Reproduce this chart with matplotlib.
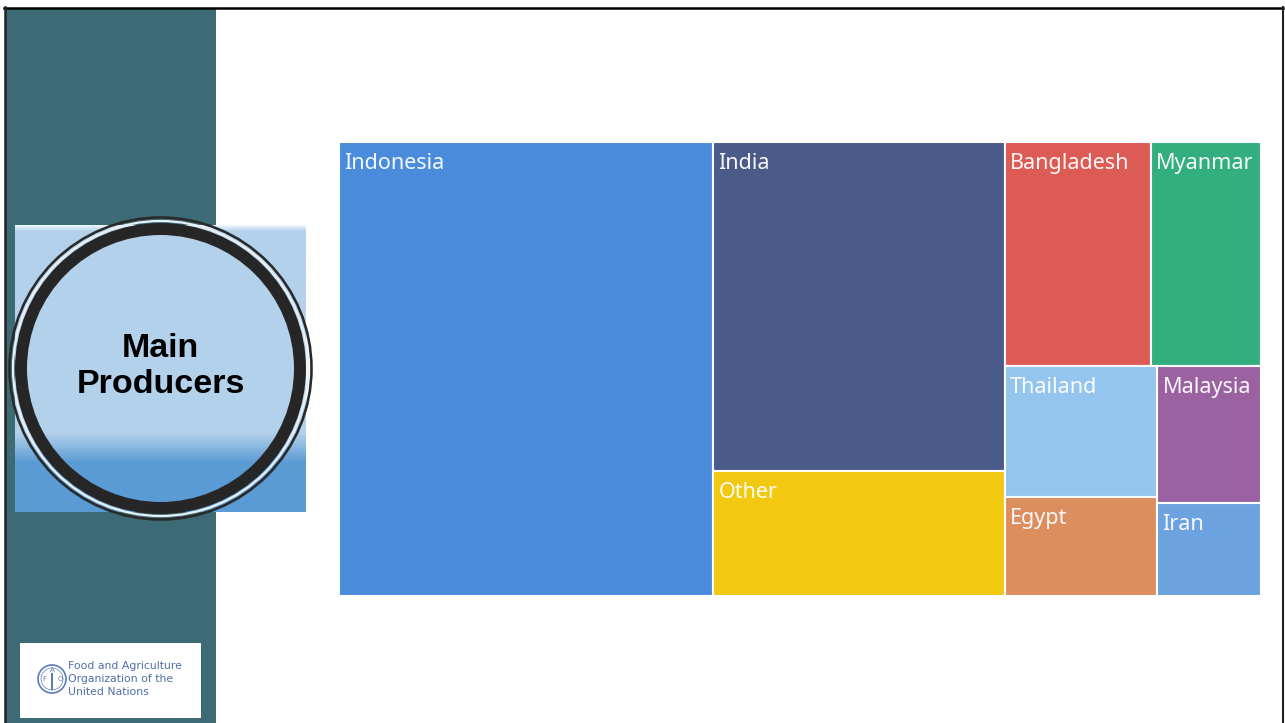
import matplotlib
matplotlib.use('Agg')
import matplotlib.pyplot as plt
import matplotlib.patches as mpatches
import numpy as np

# -------------------------- data (share of production, %) --------------------------
countries = ['Indonesia', 'India', 'Other', 'Bangladesh', 'Myanmar',
             'Thailand', 'Egypt', 'Malaysia', 'Iran']
shares = [40.6, 22.9, 8.7, 7.8, 5.9, 4.8, 3.6, 3.4, 2.3]
colors = ['#4A8CDB', '#4B5B89', '#F2C811', '#DD5B55', '#33AE7F',
          '#93C5EE', '#DD8E5E', '#9A62A0', '#6DA2E0']
panel_title = 'Main\nProducers'
org_name = 'Food and Agriculture\nOrganization of the\nUnited Nations'


def avg_ratio(areas, side):
    t = sum(areas) / side
    return np.mean([max(t / (a / t), (a / t) / t) for a in areas])


def treemap(areas, x, y, w, h):
    # squarified layout, rows kept while the mean aspect ratio improves
    rects = []
    items = list(areas)
    while items:
        side = min(w, h)
        row = [items[0]]
        best = avg_ratio(row, side)
        for a in items[1:]:
            r = avg_ratio(row + [a], side)
            if r <= best:
                row.append(a)
                best = r
            else:
                break
        items = items[len(row):]
        t = sum(row) / side
        if w >= h:  # column on the left, top to bottom
            top = y + h
            for a in row:
                hh = a / t
                rects.append((x, top - hh, t, hh))
                top -= hh
            x += t
            w -= t
        else:  # row along the top, left to right
            left = x
            for a in row:
                ww = a / t
                rects.append((left, y + h - t, ww, t))
                left += ww
            h -= t
    return rects


W, H = 1285, 723
fig = plt.figure(figsize=(W / 100, H / 100), dpi=100)
fig.patch.set_facecolor('white')

# -------------------------- slide background --------------------------
bg = fig.add_axes([0, 0, 1, 1])
bg.set_xlim(0, W)
bg.set_ylim(H, 0)
bg.axis('off')

bg.add_patch(mpatches.Rectangle((5, 8), 211, H, facecolor='#3D6B75', edgecolor='none'))
bg.plot([4, 1283], [7.5, 7.5], color='black', lw=1.8)
bg.plot([5, 5], [7, H], color='#222222', lw=1.8)
bg.plot([1283, 1283], [7, H], color='#222222', lw=1.5)

# gradient square behind the circle
yy = np.linspace(225, 512, 300)
stops = [225, 231, 433, 463, 512]
light = np.array([0xB3, 0xD1, 0xEB]) / 255
dark = np.array([0x5B, 0x9B, 0xD5]) / 255
cols = [np.array([0.93, 0.96, 0.99]), light, light, dark, dark]
grad = np.stack([np.interp(yy, stops, [c[k] for c in cols]) for k in range(3)], axis=-1)
bg.imshow(grad[:, None, :].repeat(2, axis=1), extent=[15, 306, 512, 225],
          aspect='auto', zorder=1, interpolation='bilinear')

cx, cy = 160.5, 368.5
bg.add_patch(mpatches.Circle((cx, cy), 147.5, fill=False, edgecolor='#E8F0F6', lw=2.2 * 0.72, zorder=2))
bg.add_patch(mpatches.Circle((cx, cy), 151, fill=False, edgecolor='#2A2A2A', lw=2.6 * 0.72, zorder=3))
bg.add_patch(mpatches.Circle((cx, cy), 139.5, fill=False, edgecolor='#262626', lw=12 * 0.72, zorder=3))
bg.text(cx, cy - 2, panel_title, ha='center', va='center', fontsize=24.5, fontweight='bold',
        family='Liberation Sans', color='black', linespacing=1.2, zorder=4)

# FAO logo box
bg.add_patch(mpatches.Rectangle((20, 643), 181, 75, facecolor='white', edgecolor='none', zorder=2))
bg.add_patch(mpatches.Circle((52, 679), 14, fill=False, edgecolor='#5B7DB8', lw=1.2, zorder=3))
bg.add_patch(mpatches.Circle((52, 679), 11, fill=False, edgecolor='#5B7DB8', lw=0.5, zorder=3))
for lx, ly, ch in [(44, 679, 'F'), (52, 670, 'A'), (60, 679, 'O')]:
    bg.text(lx, ly, ch, ha='center', va='center', fontsize=5, color='#5B7DB8', zorder=4)
bg.plot([52, 52], [674, 689], color='#5B7DB8', lw=1.5, zorder=3)
bg.text(68, 679, org_name, ha='left', va='center', fontsize=7.8, color='#4F6FA8',
        family='Liberation Sans Narrow', linespacing=1.35, zorder=4)

# -------------------------- treemap --------------------------
left, top, right, bottom = 339, 142, 1261, 596
ax = fig.add_axes([left / W, 1 - bottom / H, (right - left) / W, (bottom - top) / H])
aw, ah = right - left, bottom - top
ax.set_xlim(0, aw)
ax.set_ylim(0, ah)
ax.axis('off')

total = sum(shares)
areas = [s / total * aw * ah for s in shares]
for name, c, (x0, y0, rw, rh) in zip(countries, colors, treemap(areas, 0, 0, aw, ah)):
    ax.add_patch(mpatches.Rectangle((x0, y0), rw, rh, facecolor=c, edgecolor='white', lw=1.5))
    ax.text(x0 + 5, y0 + rh - 11, name, ha='left', va='top', fontsize=15.5,
            family='Noto Sans', color='white', alpha=0.95)

plt.savefig('out.png', dpi=100)
